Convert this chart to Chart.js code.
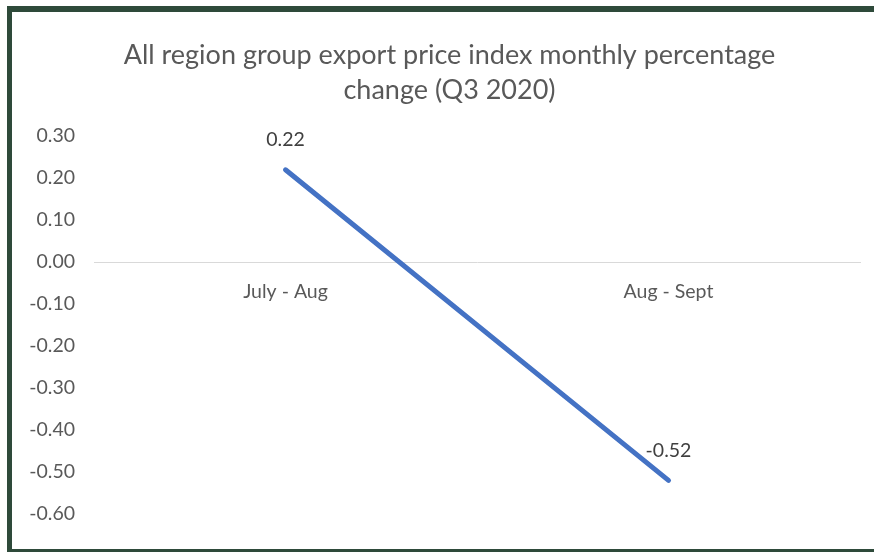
<!DOCTYPE html>
<html>
<head>
<meta charset="utf-8">
<script src="https://cdn.jsdelivr.net/npm/chart.js@4/dist/chart.umd.min.js"></script>
<style>
  html, body { margin: 0; padding: 0; background: #ffffff; }
  #wrap { position: relative; width: 874px; height: 552px; overflow: hidden; }
  #chart { position: absolute; left: 0; top: 0; }
  .edge { position: absolute; background: #2e4a3a; }
</style>
</head>
<body>
<div id="wrap">
  <canvas id="chart" width="874" height="552"></canvas>
  <div class="edge" style="left:7px; top:6px; width:867px; height:6px;"></div>
  <div class="edge" style="left:7px; top:6px; width:5px; height:546px;"></div>
  <div class="edge" style="left:7px; top:549px; width:867px; height:3px;"></div>
</div>
<script>
const categories = ["July - Aug", "Aug - Sept"];
const changeValues = [0.22, -0.52];
const yTicks = [0.30, 0.20, 0.10, 0.00, -0.10, -0.20, -0.30, -0.40, -0.50, -0.60];
const titleLines = ["All region group export price index monthly percentage", "change (Q3 2020)"];

const FONT = "Lato, 'Open Sans', sans-serif";

// labels drawn above each point, like Excel data labels
const pointLabels = {
    id: "pointLabels",
    afterDatasetsDraw(chart){
        const ctx = chart.ctx;
        const meta = chart.getDatasetMeta(0);
        ctx.save();
        ctx.font = "19.5px " + FONT;
        ctx.fillStyle = "#404040";
        ctx.textAlign = "center";
        ctx.textBaseline = "middle";
        meta.data.forEach((pt, i) => {
            ctx.fillText(changeValues[i].toFixed(2), pt.x, pt.y - 30);
        });
        ctx.restore();
    }
};

// title in the reference sits a little right of the canvas centre
const titleShift = {
    id: "titleShift",
    afterLayout(chart){
        if(chart.titleBlock) chart.titleBlock.left += 25;
    }
};

new Chart(document.getElementById("chart"), {
    type: "line",
    data: {
        labels: categories,
        datasets: [{
            data: changeValues,
            borderColor: "#4472c4",
            borderWidth: 5,
            borderCapStyle: "round",
            pointRadius: 0,
            fill: false,
            tension: 0
        }]
    },
    options: {
        responsive: false,
        animation: false,
        devicePixelRatio: 1,
        layout: { padding: { left: 14, right: 14, top: 0, bottom: 38 } },
        plugins: {
            legend: { display: false },
            tooltip: { enabled: false },
            title: {
                display: true,
                text: titleLines,
                color: "#595959",
                font: { family: FONT, size: 27, weight: "normal", lineHeight: 1.3 },
                padding: { top: 38, bottom: 28 }
            }
        },
        scales: {
            x: {
                type: "category",
                offset: true,
                position: { y: 0 },
                grid: { display: false, drawTicks: false },
                border: { display: true, color: "#d9d9d9", width: 1 },
                ticks: {
                    color: "#595959",
                    padding: 18,
                    font: { family: FONT, size: 19.5 }
                }
            },
            y: {
                min: Math.min(...yTicks),
                max: Math.max(...yTicks),
                grid: { display: false, drawTicks: false },
                border: { display: false },
                afterBuildTicks(scale){
                    scale.ticks = yTicks.map(v => ({ value: v }));
                },
                afterFit(scale){
                    scale.width = 80;
                },
                ticks: {
                    color: "#595959",
                    padding: 19,
                    font: { family: FONT, size: 19.5 },
                    callback: (value) => Number(value).toFixed(2)
                }
            }
        }
    },
    plugins: [pointLabels, titleShift]
});
</script>
</body>
</html>
